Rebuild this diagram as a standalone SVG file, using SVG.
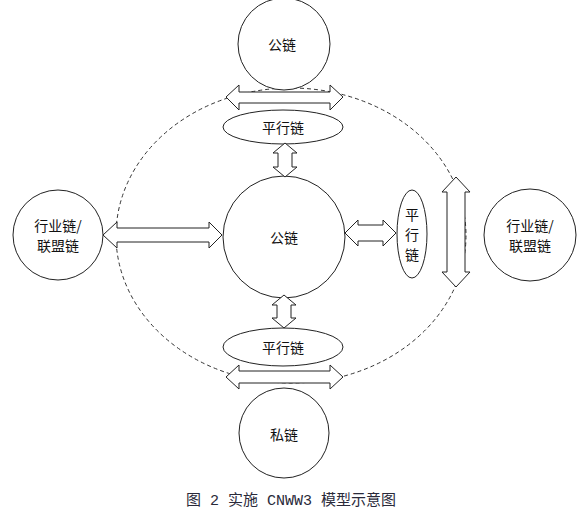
<svg xmlns="http://www.w3.org/2000/svg" width="587" height="514" viewBox="0 0 587 514">
<style>
.n{fill:#fff;stroke:#222;stroke-width:1}
.a{fill:#fff;stroke:#222;stroke-width:1;stroke-linejoin:miter}
.t{font-family:"Noto Sans CJK SC",sans-serif;font-size:14px;fill:#111;text-anchor:middle;dominant-baseline:central}
.d{fill:none;stroke:#333;stroke-width:1;stroke-dasharray:4,3}
</style>
<rect width="587" height="514" fill="#fff"/>
<g id="ring"><ellipse class="d" cx="291" cy="235.5" rx="175" ry="147.5"/></g>
<g id="top"><circle class="n" cx="284" cy="44" r="46"/><text class="t" x="282" y="44">公链</text></g>
<g id="center"><circle class="n" cx="284" cy="237" r="61"/><text class="t" x="284" y="237">公链</text></g>
<g id="bottom"><circle class="n" cx="284" cy="433" r="45"/><text class="t" x="284" y="434">私链</text></g>
<g id="left"><circle class="n" cx="58" cy="235" r="45"/><text class="t" x="58" y="225">行业链/</text><text class="t" x="58" y="245">联盟链</text></g>
<g id="right"><circle class="n" cx="530" cy="235" r="46"/><text class="t" x="530" y="225">行业链/</text><text class="t" x="530" y="245">联盟链</text></g>
<g id="par-top"><ellipse class="n" cx="283" cy="127" rx="60" ry="17"/><text class="t" x="283" y="127">平行链</text></g>
<g id="par-bottom"><ellipse class="n" cx="283" cy="347" rx="60" ry="19"/><text class="t" x="283" y="347">平行链</text></g>
<g id="par-right"><ellipse class="n" cx="412" cy="234" rx="15" ry="44"/><text class="t" x="412" y="214">平</text><text class="t" x="412" y="234">行</text><text class="t" x="412" y="254">链</text></g>
<g id="connectors">
<polygon class="a" points="226,97 239,85 239,92 330,92 330,85 343,97 330,110 330,103 239,103 239,110"/>
<polygon class="a" points="226,377 239,365 239,371 330,371 330,365 343,377 330,389 330,383 239,383 239,389"/>
<polygon class="a" points="285,143 297,153 292,153 292,167 297,167 285,177 273,167 278,167 278,153 273,153"/>
<polygon class="a" points="284,295 296,305 291,305 291,318 296,318 284,328 272,318 277,318 277,305 272,305"/>
<polygon class="a" points="103,235 117,222 117,228 209,228 209,222 222,235 209,248 209,242 117,242 117,248"/>
<polygon class="a" points="345,233 358,220 358,225 383,225 383,220 396,233 383,246 383,241 358,241 358,246"/>
<polygon class="a" points="456,177 470,192 465,192 465,272 470,272 456,287 442,272 447,272 447,192 442,192"/>
</g>
<text x="291" y="505" font-family="'Liberation Mono','Noto Sans CJK SC',monospace" font-size="15" fill="#2a2a3a" text-anchor="middle">图 2 实施 CNWW3 模型示意图</text>
</svg>
